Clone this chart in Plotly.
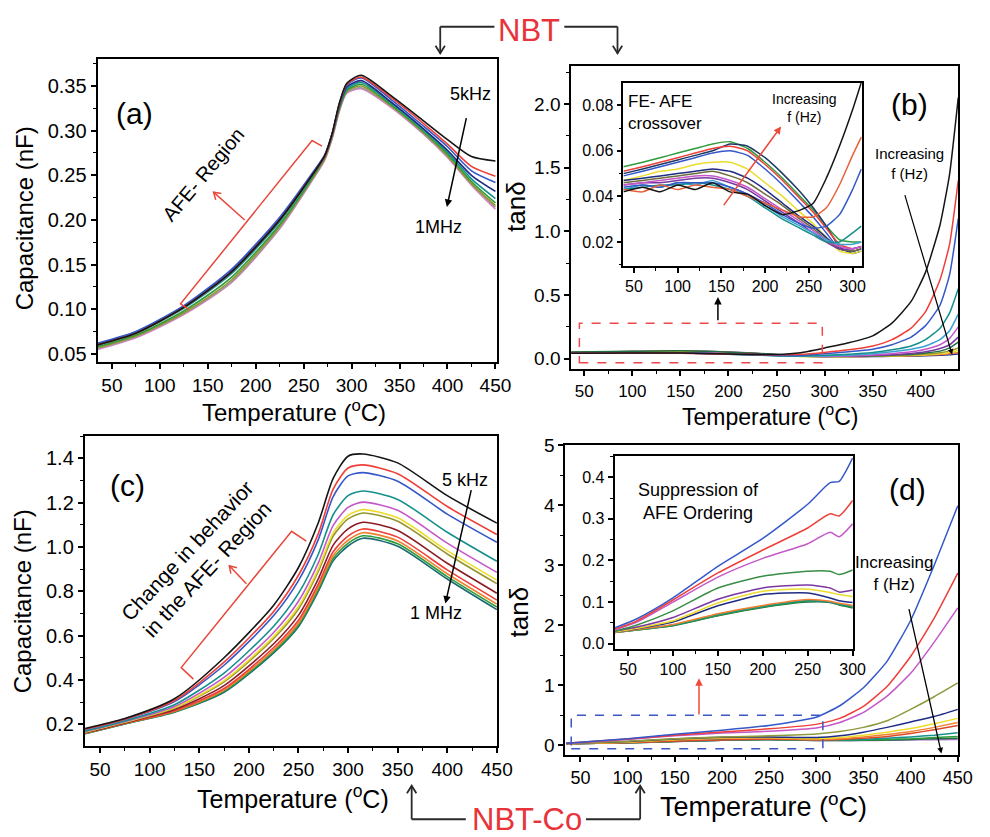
import math
import plotly.graph_objects as go

W, H = 990, 837
FONT = "Liberation Sans, Arial, Helvetica, sans-serif"

# ---------------- DATA ----------------
# (a) NBT capacitance (nF) vs temperature (C)
Ta = [35, 75, 125, 175, 225, 260, 272, 280, 287, 295, 310, 340, 375, 400, 425, 450]
a_pink  = [0.055, 0.068, 0.094, 0.130, 0.190, 0.246, 0.267, 0.292, 0.321, 0.342, 0.347, 0.327, 0.296, 0.270, 0.239, 0.212]
a_gray  = [0.056, 0.069, 0.095, 0.131, 0.191, 0.247, 0.268, 0.293, 0.322, 0.343, 0.348, 0.328, 0.297, 0.271, 0.240, 0.214]
a_olive = [0.057, 0.070, 0.096, 0.133, 0.193, 0.248, 0.269, 0.294, 0.323, 0.344, 0.350, 0.329, 0.298, 0.272, 0.241, 0.216]
a_green = [0.058, 0.071, 0.098, 0.136, 0.195, 0.249, 0.270, 0.295, 0.324, 0.345, 0.352, 0.330, 0.299, 0.274, 0.243, 0.219]
a_teal  = [0.060, 0.073, 0.101, 0.140, 0.198, 0.251, 0.271, 0.296, 0.326, 0.347, 0.354, 0.332, 0.301, 0.276, 0.246, 0.224]
a_navy  = [0.061, 0.074, 0.103, 0.143, 0.201, 0.253, 0.272, 0.297, 0.327, 0.349, 0.356, 0.333, 0.302, 0.278, 0.250, 0.232]
a_blue  = [0.062, 0.075, 0.104, 0.145, 0.203, 0.254, 0.273, 0.298, 0.329, 0.351, 0.359, 0.336, 0.305, 0.282, 0.255, 0.242]
a_red   = [0.060, 0.073, 0.102, 0.142, 0.200, 0.252, 0.271, 0.297, 0.329, 0.352, 0.360, 0.338, 0.308, 0.285, 0.260, 0.249]
a_black = [0.060, 0.073, 0.102, 0.142, 0.200, 0.252, 0.272, 0.298, 0.330, 0.353, 0.362, 0.340, 0.311, 0.290, 0.271, 0.266]

# (b) NBT tan(delta) main panel
Tb = [36, 100, 150, 200, 250, 275, 300, 325, 350, 370, 390, 405, 420, 430, 439]
b_navy    = [0.050, 0.056, 0.062, 0.054, 0.034, 0.022, 0.016, 0.016, 0.017, 0.019, 0.021, 0.024, 0.028, 0.032, 0.038]
b_orange  = [0.051, 0.057, 0.061, 0.052, 0.032, 0.022, 0.018, 0.018, 0.019, 0.021, 0.024, 0.028, 0.033, 0.040, 0.050]
b_yellow  = [0.047, 0.052, 0.055, 0.046, 0.028, 0.018, 0.016, 0.017, 0.019, 0.022, 0.027, 0.032, 0.040, 0.050, 0.065]
b_olive   = [0.046, 0.049, 0.051, 0.042, 0.028, 0.020, 0.017, 0.018, 0.020, 0.024, 0.030, 0.037, 0.048, 0.062, 0.085]
b_green   = [0.053, 0.059, 0.063, 0.052, 0.033, 0.024, 0.020, 0.020, 0.023, 0.028, 0.035, 0.045, 0.060, 0.085, 0.130]
b_purple  = [0.045, 0.047, 0.048, 0.040, 0.027, 0.020, 0.018, 0.020, 0.025, 0.032, 0.042, 0.055, 0.080, 0.110, 0.170]
b_magenta = [0.045, 0.047, 0.048, 0.040, 0.026, 0.020, 0.018, 0.022, 0.030, 0.040, 0.055, 0.075, 0.110, 0.160, 0.250]
b_cyan    = [0.044, 0.046, 0.045, 0.036, 0.024, 0.020, 0.022, 0.028, 0.040, 0.055, 0.075, 0.100, 0.150, 0.220, 0.350]
b_teal    = [0.044, 0.046, 0.045, 0.036, 0.024, 0.021, 0.027, 0.036, 0.050, 0.070, 0.100, 0.150, 0.240, 0.360, 0.550]
b_blue    = [0.044, 0.046, 0.045, 0.037, 0.026, 0.026, 0.040, 0.055, 0.075, 0.110, 0.170, 0.260, 0.420, 0.660, 1.100]
b_red     = [0.043, 0.045, 0.044, 0.036, 0.031, 0.035, 0.050, 0.070, 0.100, 0.150, 0.240, 0.370, 0.620, 0.900, 1.400]
b_black   = [0.043, 0.045, 0.045, 0.037, 0.034, 0.048, 0.085, 0.125, 0.180, 0.280, 0.450, 0.680, 1.050, 1.450, 2.050]

# (b) inset: FE-AFE crossover
Tbi = [38, 60, 80, 100, 120, 140, 160, 180, 200, 220, 240, 255, 270, 285, 300, 310]
bi_black   = [0.042, 0.044, 0.042, 0.045, 0.043, 0.046, 0.042, 0.041, 0.036, 0.032, 0.034, 0.037, 0.048, 0.062, 0.078, 0.090]
bi_red     = [0.043, 0.042, 0.045, 0.043, 0.045, 0.044, 0.043, 0.040, 0.037, 0.034, 0.031, 0.031, 0.035, 0.045, 0.058, 0.066]
bi_blue    = [0.044, 0.045, 0.044, 0.046, 0.046, 0.046, 0.044, 0.041, 0.037, 0.032, 0.028, 0.026, 0.027, 0.032, 0.043, 0.052]
bi_teal    = [0.043, 0.044, 0.045, 0.045, 0.046, 0.045, 0.043, 0.040, 0.035, 0.030, 0.026, 0.023, 0.020, 0.020, 0.024, 0.027]
bi_cyan    = [0.043, 0.045, 0.044, 0.046, 0.045, 0.047, 0.044, 0.041, 0.036, 0.031, 0.027, 0.024, 0.021, 0.019, 0.019, 0.020]
bi_magenta = [0.045, 0.046, 0.047, 0.048, 0.049, 0.049, 0.047, 0.044, 0.039, 0.034, 0.029, 0.025, 0.021, 0.018, 0.017, 0.018]
bi_purple  = [0.045, 0.046, 0.046, 0.047, 0.048, 0.048, 0.046, 0.043, 0.038, 0.033, 0.028, 0.024, 0.020, 0.017, 0.017, 0.018]
bi_olive   = [0.046, 0.047, 0.048, 0.049, 0.050, 0.051, 0.049, 0.046, 0.041, 0.036, 0.030, 0.026, 0.021, 0.017, 0.016, 0.017]
bi_navy    = [0.047, 0.048, 0.049, 0.050, 0.051, 0.052, 0.051, 0.048, 0.043, 0.037, 0.031, 0.027, 0.022, 0.017, 0.016, 0.017]
bi_yellow  = [0.047, 0.049, 0.051, 0.052, 0.054, 0.055, 0.055, 0.052, 0.046, 0.040, 0.033, 0.028, 0.022, 0.016, 0.015, 0.016]
bi_blue2   = [0.049, 0.051, 0.053, 0.055, 0.057, 0.059, 0.060, 0.058, 0.052, 0.045, 0.037, 0.031, 0.024, 0.017, 0.016, 0.017]
bi_red2    = [0.051, 0.053, 0.055, 0.057, 0.059, 0.061, 0.062, 0.060, 0.054, 0.047, 0.039, 0.033, 0.026, 0.019, 0.017, 0.018]
bi_dnavy   = [0.050, 0.052, 0.054, 0.056, 0.058, 0.060, 0.063, 0.062, 0.057, 0.050, 0.042, 0.035, 0.027, 0.018, 0.015, 0.016]
bi_green   = [0.053, 0.055, 0.057, 0.059, 0.061, 0.063, 0.064, 0.061, 0.055, 0.048, 0.040, 0.034, 0.027, 0.021, 0.020, 0.020]

# (c) NBT-Co capacitance (nF)
Tc = [35, 75, 125, 175, 225, 250, 270, 285, 300, 315, 350, 400, 450]
c_dteal   = [0.158, 0.202, 0.255, 0.345, 0.523, 0.641, 0.800, 0.938, 1.005, 1.040, 1.004, 0.856, 0.718]
c_green   = [0.159, 0.203, 0.257, 0.350, 0.529, 0.649, 0.809, 0.949, 1.017, 1.051, 1.015, 0.867, 0.730]
c_orange  = [0.160, 0.204, 0.259, 0.355, 0.537, 0.658, 0.820, 0.962, 1.031, 1.065, 1.028, 0.880, 0.743]
c_red2    = [0.161, 0.205, 0.262, 0.362, 0.547, 0.670, 0.833, 0.979, 1.050, 1.082, 1.045, 0.897, 0.761]
c_wine    = [0.163, 0.207, 0.267, 0.375, 0.564, 0.692, 0.857, 1.009, 1.082, 1.112, 1.075, 0.927, 0.792]
c_olive   = [0.165, 0.210, 0.273, 0.392, 0.588, 0.721, 0.890, 1.050, 1.127, 1.154, 1.117, 0.969, 0.835]
c_yellow  = [0.166, 0.211, 0.276, 0.398, 0.596, 0.732, 0.902, 1.064, 1.143, 1.169, 1.132, 0.984, 0.851]
c_magenta = [0.168, 0.213, 0.281, 0.412, 0.615, 0.756, 0.929, 1.098, 1.179, 1.203, 1.166, 1.018, 0.886]
c_teal    = [0.171, 0.216, 0.289, 0.432, 0.643, 0.791, 0.968, 1.146, 1.232, 1.253, 1.215, 1.067, 0.936]
c_blue    = [0.177, 0.222, 0.303, 0.467, 0.691, 0.849, 1.034, 1.228, 1.321, 1.336, 1.297, 1.149, 1.022]
c_red     = [0.179, 0.224, 0.308, 0.481, 0.710, 0.873, 1.061, 1.262, 1.357, 1.371, 1.331, 1.183, 1.057]
c_black   = [0.182, 0.227, 0.316, 0.501, 0.738, 0.908, 1.110, 1.310, 1.410, 1.420, 1.380, 1.232, 1.108]

# (d) NBT-Co tan(delta) main panel
Td = [35, 100, 150, 200, 250, 300, 325, 350, 375, 400, 425, 450]
d_violet = [0.027, 0.042, 0.064, 0.084, 0.097, 0.082, 0.080, 0.080, 0.085, 0.090, 0.095, 0.100]
d_dgreen = [0.027, 0.042, 0.065, 0.085, 0.098, 0.083, 0.082, 0.085, 0.090, 0.100, 0.110, 0.120]
d_green  = [0.027, 0.043, 0.066, 0.086, 0.100, 0.085, 0.085, 0.090, 0.100, 0.110, 0.130, 0.150]
d_teal   = [0.027, 0.043, 0.067, 0.087, 0.100, 0.087, 0.090, 0.100, 0.120, 0.140, 0.170, 0.210]
d_red3   = [0.027, 0.045, 0.070, 0.090, 0.103, 0.090, 0.100, 0.120, 0.150, 0.200, 0.260, 0.330]
d_orange = [0.028, 0.052, 0.091, 0.118, 0.122, 0.099, 0.110, 0.140, 0.180, 0.230, 0.300, 0.380]
d_yellow = [0.028, 0.055, 0.098, 0.126, 0.130, 0.113, 0.130, 0.170, 0.220, 0.280, 0.360, 0.450]
d_navy   = [0.030, 0.063, 0.107, 0.134, 0.140, 0.130, 0.160, 0.220, 0.300, 0.390, 0.480, 0.600]
d_olive  = [0.030, 0.070, 0.110, 0.140, 0.160, 0.190, 0.230, 0.300, 0.410, 0.600, 0.810, 1.040]
d_magenta = [0.033, 0.100, 0.160, 0.205, 0.237, 0.290, 0.380, 0.550, 0.820, 1.200, 1.720, 2.290]
d_red    = [0.035, 0.105, 0.170, 0.225, 0.276, 0.350, 0.450, 0.650, 0.980, 1.480, 2.120, 2.870]
d_blue   = [0.035, 0.110, 0.186, 0.253, 0.332, 0.470, 0.660, 0.960, 1.400, 2.080, 3.000, 3.990]

# (d) inset: suppression of AFE ordering
Tdi = [35, 60, 100, 150, 200, 250, 275, 285, 300]
di_dgreen  = [0.027, 0.033, 0.043, 0.067, 0.087, 0.100, 0.099, 0.093, 0.086]
di_green2  = [0.027, 0.033, 0.044, 0.068, 0.088, 0.102, 0.100, 0.094, 0.087]
di_teal    = [0.027, 0.034, 0.045, 0.070, 0.090, 0.104, 0.100, 0.095, 0.090]
di_orange  = [0.027, 0.034, 0.046, 0.072, 0.092, 0.106, 0.102, 0.097, 0.092]
di_navy    = [0.028, 0.036, 0.052, 0.091, 0.118, 0.122, 0.110, 0.103, 0.099]
di_yellow  = [0.028, 0.037, 0.055, 0.098, 0.126, 0.131, 0.123, 0.118, 0.113]
di_purple  = [0.030, 0.040, 0.063, 0.107, 0.134, 0.141, 0.134, 0.124, 0.129]
di_green   = [0.030, 0.045, 0.079, 0.134, 0.162, 0.174, 0.174, 0.166, 0.177]
di_magenta = [0.033, 0.052, 0.100, 0.160, 0.205, 0.240, 0.268, 0.257, 0.288]
di_red     = [0.035, 0.055, 0.105, 0.170, 0.225, 0.278, 0.312, 0.307, 0.344]
di_blue    = [0.038, 0.060, 0.110, 0.186, 0.253, 0.335, 0.387, 0.390, 0.446]

# ---------------- COLOURS ----------------
BLACK, RED, BLUE = "#151515", "#ee3f38", "#3458c8"
TEAL, MAGENTA, YELLOW = "#16908c", "#c558c8", "#ecdc2c"
OLIVE, WINE, ORANGE = "#96962e", "#8c1c24", "#f28030"
GREEN, NAVY, PURPLE = "#2f9c3c", "#1e2c84", "#7a38a2"
CYAN, GRAY, PINK = "#3aa2d2", "#9a9a9a", "#e27cc8"
DGREEN, VIOLET = "#1f6e44", "#a874c8"

# ---------------- GEOMETRY (pixels: left, top, right, bottom) ----------------
P = {
    "a":  dict(box=(99, 50, 505, 358),  xr=[35, 452],   yr=[0.0404, 0.3800], xa="x",  ya="y"),
    "b":  dict(box=(580, 57, 973, 365), xr=[36.4, 439], yr=[-0.083, 2.297],  xa="x2", ya="y2"),
    "bi": dict(box=(633, 74, 875, 260), xr=[38, 310.5], yr=[0.0095, 0.0898], xa="x3", ya="y3"),
    "c":  dict(box=(86, 433, 505, 748), xr=[34.5, 450.5], yr=[0.101, 1.5],   xa="x4", ya="y4"),
    "d":  dict(box=(574, 442, 973, 757), xr=[34, 450.5], yr=[-0.164, 5.0],   xa="x5", ya="y5"),
    "di": dict(box=(624, 453, 866, 649), xr=[35, 300.3], yr=[-0.0125, 0.451], xa="x6", ya="y6"),
}


def d2px(p, x, y):
    l, t, r, b = P[p]["box"]
    xr, yr = P[p]["xr"], P[p]["yr"]
    return (l + (x - xr[0]) / (xr[1] - xr[0]) * (r - l),
            b - (y - yr[0]) / (yr[1] - yr[0]) * (b - t))


def pp(x, y):
    return x / W, 1 - y / H


fig = go.Figure()


def add_lines(p, T, series, width=1.5, smooth=0.7):
    for vals, col in series:
        fig.add_trace(go.Scatter(
            x=T, y=vals, mode="lines",
            line=dict(color=col, width=width, shape="spline", smoothing=smooth),
            xaxis=P[p]["xa"], yaxis=P[p]["ya"], showlegend=False, hoverinfo="skip"))


add_lines("a", Ta, [(a_pink, PINK), (a_gray, GRAY), (a_olive, OLIVE), (a_green, GREEN),
                    (a_teal, TEAL), (a_navy, NAVY), (a_blue, BLUE), (a_red, RED), (a_black, BLACK)], width=1.6)
add_lines("b", Tb, [(b_navy, NAVY), (b_orange, ORANGE), (b_yellow, YELLOW), (b_olive, OLIVE),
                    (b_green, DGREEN), (b_purple, PURPLE), (b_magenta, MAGENTA), (b_cyan, CYAN),
                    (b_teal, TEAL), (b_blue, BLUE), (b_red, RED), (b_black, BLACK)], width=1.5, smooth=0.5)
add_lines("bi", Tbi, [(bi_green, GREEN), (bi_dnavy, "#1d3a66"), (bi_red2, RED), (bi_blue2, BLUE),
                      (bi_yellow, YELLOW), (bi_navy, NAVY), (bi_olive, "#6d6d3c"), (bi_purple, PURPLE),
                      (bi_magenta, MAGENTA), (bi_cyan, CYAN), (bi_teal, TEAL), (bi_blue, BLUE),
                      (bi_red, "#e8603a"), (bi_black, BLACK)], width=1.5, smooth=0.5)
add_lines("c", Tc, [(c_dteal, "#1a6a74"), (c_green, GREEN), (c_orange, ORANGE), (c_red2, RED),
                    (c_wine, WINE), (c_olive, OLIVE), (c_yellow, YELLOW), (c_magenta, MAGENTA),
                    (c_teal, TEAL), (c_blue, BLUE), (c_red, RED), (c_black, BLACK)], width=1.6)
add_lines("d", Td, [(d_violet, VIOLET), (d_dgreen, DGREEN), (d_green, GREEN), (d_teal, TEAL),
                    (d_red3, "#d84a28"), (d_orange, ORANGE), (d_yellow, YELLOW), (d_navy, NAVY),
                    (d_olive, "#8e9a3c"), (d_magenta, MAGENTA), (d_red, RED), (d_blue, BLUE)], width=1.5, smooth=0.5)
add_lines("di", Tdi, [(di_dgreen, DGREEN), (di_green2, GREEN), (di_teal, TEAL), (di_orange, ORANGE),
                      (di_navy, NAVY), (di_yellow, YELLOW), (di_purple, PURPLE), (di_green, "#3a8e46"),
                      (di_magenta, MAGENTA), (di_red, RED), (di_blue, BLUE)], width=1.5, smooth=0.6)


def axis(p, which, dtick, minor, fsize, fmt):
    l, t, r, b = P[p]["box"]
    if which == "x":
        dom = [l / W, r / W]
        rng = P[p]["xr"]
        anchor = P[p]["ya"]
    else:
        dom = [1 - b / H, 1 - t / H]
        rng = P[p]["yr"]
        anchor = P[p]["xa"]
    return dict(domain=dom, range=rng, anchor=anchor, showline=True, linecolor="black",
                linewidth=1.8, mirror=True, ticks="outside", ticklen=5, tickwidth=1.6,
                tickcolor="black", dtick=dtick, tick0=0, tickformat=fmt,
                minor=dict(dtick=minor, tick0=0, ticks="outside", ticklen=3, tickwidth=1.3,
                           tickcolor="black", showgrid=False),
                showgrid=False, zeroline=False,
                tickfont=dict(family=FONT, size=fsize, color="black"))


layout_axes = {
    "xaxis": axis("a", "x", 50, 25, 19, "d"),
    "yaxis": axis("a", "y", 0.05, 0.025, 20, ".2f"),
    "xaxis2": axis("b", "x", 50, 25, 17, "d"),
    "yaxis2": axis("b", "y", 0.5, 0.25, 19, ".1f"),
    "xaxis3": axis("bi", "x", 50, 25, 16, "d"),
    "yaxis3": axis("bi", "y", 0.02, 0.01, 16, ".2f"),
    "xaxis4": axis("c", "x", 50, 25, 19, "d"),
    "yaxis4": axis("c", "y", 0.2, 0.1, 20, ".1f"),
    "xaxis5": axis("d", "x", 50, 25, 18, "d"),
    "yaxis5": axis("d", "y", 1, 0.5, 19, "d"),
    "xaxis6": axis("di", "x", 50, 25, 16, "d"),
    "yaxis6": axis("di", "y", 0.1, 0.05, 16, ".1f"),
}

annotations = []
shapes = []


def text_px(x, y, text, size, color="black", angle=0):
    xp, yp = pp(x, y)
    annotations.append(dict(x=xp, y=yp, xref="paper", yref="paper", text=text, showarrow=False,
                            textangle=angle, xanchor="center", yanchor="middle",
                            font=dict(family=FONT, size=size, color=color)))


def text_d(p, x, y, text, size, color="black", angle=0, align="center"):
    annotations.append(dict(x=x, y=y, xref=P[p]["xa"], yref=P[p]["ya"], text=text, showarrow=False,
                            textangle=angle, xanchor="center", yanchor="middle", align=align,
                            font=dict(family=FONT, size=size, color=color)))


def arrow_d(p, x0, y0, x1, y1, color="black", width=1.5, size=1.0):
    annotations.append(dict(x=x1, y=y1, ax=x0, ay=y0, xref=P[p]["xa"], yref=P[p]["ya"],
                            axref=P[p]["xa"], ayref=P[p]["ya"], text="", showarrow=True,
                            arrowhead=2, arrowsize=size, arrowwidth=width, arrowcolor=color))


def seg_px(x0, y0, x1, y1, color, width):
    a, b = pp(x0, y0)
    c, d = pp(x1, y1)
    shapes.append(dict(type="line", xref="paper", yref="paper", x0=a, y0=b, x1=c, y1=d,
                       line=dict(color=color, width=width)))


def varrow_px(x0, y0, x1, y1, color, width, head=9, ang=32):
    seg_px(x0, y0, x1, y1, color, width)
    L = math.hypot(x1 - x0, y1 - y0)
    ux, uy = (x1 - x0) / L, (y1 - y0) / L
    pts = []
    for s in (1, -1):
        a = math.radians(ang) * s
        rx = ux * math.cos(a) - uy * math.sin(a)
        ry = ux * math.sin(a) + uy * math.cos(a)
        pts.append((x1 - head * rx, y1 - head * ry))
    p1, p0, p2 = pp(*pts[0]), pp(x1, y1), pp(*pts[1])
    shapes.append(dict(type="path", xref="paper", yref="paper",
                       path=f"M {p1[0]},{p1[1]} L {p0[0]},{p0[1]} L {p2[0]},{p2[1]}",
                       line=dict(color=color, width=width)))


def varrow_d(p, x0, y0, x1, y1, color, width, head=9):
    a = d2px(p, x0, y0)
    b = d2px(p, x1, y1)
    varrow_px(a[0], a[1], b[0], b[1], color, width, head)


# ---------- axis titles ----------
TEMP = "Temperature (<sup>o</sup>C)"
text_px(25, 212, "Capacitance (nF)", 24, angle=-90)
text_px(299, 407, TEMP, 24)
text_px(524, 200, "tanδ", 26, angle=-90)
text_px(782, 411, TEMP, 23)
text_px(23, 601, "Capacitance (nF)", 24, angle=-90)
text_px(297, 799, TEMP, 25)
text_px(527, 612, "tanδ", 26, angle=-90)
text_px(775, 808, TEMP, 27)

# ---------- panel (a) ----------
text_d("a", 73.7, 0.3194, "(a)", 30)
text_d("a", 145.7, 0.2513, "AFE- Region", 20, angle=-50)
text_d("a", 423.5, 0.3412, "5kHz", 18)
text_d("a", 390.8, 0.1925, "1MHz", 18)
arrow_d("a", 420.0, 0.3158, 399.4, 0.2146, width=1.5)
A_BR_X = [269.1, 258.8, 121.6, 130.2]
A_BR_Y = [0.2827, 0.2889, 0.1060, 0.0998]
shapes.append(dict(type="path", xref="x", yref="y",
                   path="M " + " L ".join(f"{x},{y}" for x, y in zip(A_BR_X, A_BR_Y)),
                   line=dict(color="#e8483c", width=1.5)))
varrow_d("a", 188.5, 0.200, 156.0, 0.2311, "#e8483c", 1.5, head=8)

# ---------- panel (b) ----------
text_d("b", 387.8, 1.992, "(b)", 30)
text_d("b", 387.8, 1.535, "Increasing<br>f (Hz)", 15)
arrow_d("b", 383.0, 1.296, 432.6, 0.033, width=1.2, size=0.9)
shapes.append(dict(type="rect", xref="x2", yref="y2", x0=44.9, x1=297.6, y0=-0.031, y1=0.278,
                   line=dict(color="#f04848", width=1.5, dash="dash")))
arrow_d("b", 189.0, 0.290, 189.0, 0.484, width=1.5, size=1.0)
text_d("bi", 86.0, 0.0768, "FE- AFE<br>crossover", 17, align="left")
text_d("bi", 244.7, 0.0788, "Increasing<br>f (Hz)", 14)
arrow_d("bi", 151.5, 0.0355, 218.3, 0.0707, color="#ee4a3a", width=1.5)

# ---------- panel (c) ----------
text_d("c", 78.0, 1.279, "(c)", 30)
text_d("c", 147.5, 0.942, "Change in behavior<br>in the AFE- Region", 21, angle=-47)
text_d("c", 418.0, 1.301, "5 kHz", 18)
text_d("c", 388.2, 0.701, "1 MHz", 18)
arrow_d("c", 424.5, 1.2636, 398.1, 0.7453, width=1.5)
C_BR_X = [257.9, 243.1, 131.8, 144.1]
C_BR_Y = [1.0267, 1.0711, 0.4564, 0.4044]
shapes.append(dict(type="path", xref="x4", yref="y4",
                   path="M " + " L ".join(f"{x},{y}" for x, y in zip(C_BR_X, C_BR_Y)),
                   line=dict(color="#e8483c", width=1.5)))
varrow_d("c", 197.5, 0.8342, 180.3, 0.9156, "#e8483c", 1.5, head=8)

# ---------- panel (d) ----------
text_d("d", 396.2, 4.262, "(d)", 30)
text_d("d", 382.3, 2.856, "Increasing<br>f (Hz)", 17)
arrow_d("d", 397.9, 2.295, 432.7, -0.136, width=1.3, size=0.9)
shapes.append(dict(type="rect", xref="x5", yref="y5", x0=40.3, x1=307.0, y0=-0.054, y1=0.503,
                   line=dict(color="#3a58c0", width=1.5, dash="dash")))
arrow_d("d", 175.7, 0.49, 175.7, 1.12, color="#ee4a3a", width=1.5)
text_d("di", 127.9, 0.3415, "Suppression of<br>AFE Ordering", 18)

# ---------- header / footer ----------
LINE = "#2a2a2a"
text_px(537, 21, "NBT", 31, color="#e8333a")
seg_px(502, 17, 447, 17, LINE, 1.8)
varrow_px(447, 17, 447, 44, LINE, 1.8)
seg_px(573, 17, 627, 17, LINE, 1.8)
varrow_px(627, 17, 627, 44, LINE, 1.8)

text_px(535, 822, "NBT-Co", 31, color="#e8333a")
seg_px(473, 822, 418, 822, LINE, 1.8)
varrow_px(418, 822, 418, 788, LINE, 1.8)
seg_px(595, 822, 650, 822, LINE, 1.8)
varrow_px(650, 822, 650, 788, LINE, 1.8)

fig.update_layout(
    width=W, height=H, margin=dict(l=0, r=0, t=0, b=0),
    paper_bgcolor="white", plot_bgcolor="white", showlegend=False,
    font=dict(family=FONT, color="black"),
    annotations=annotations, shapes=shapes,
    **layout_axes,
)

fig.write_html("out.html")
